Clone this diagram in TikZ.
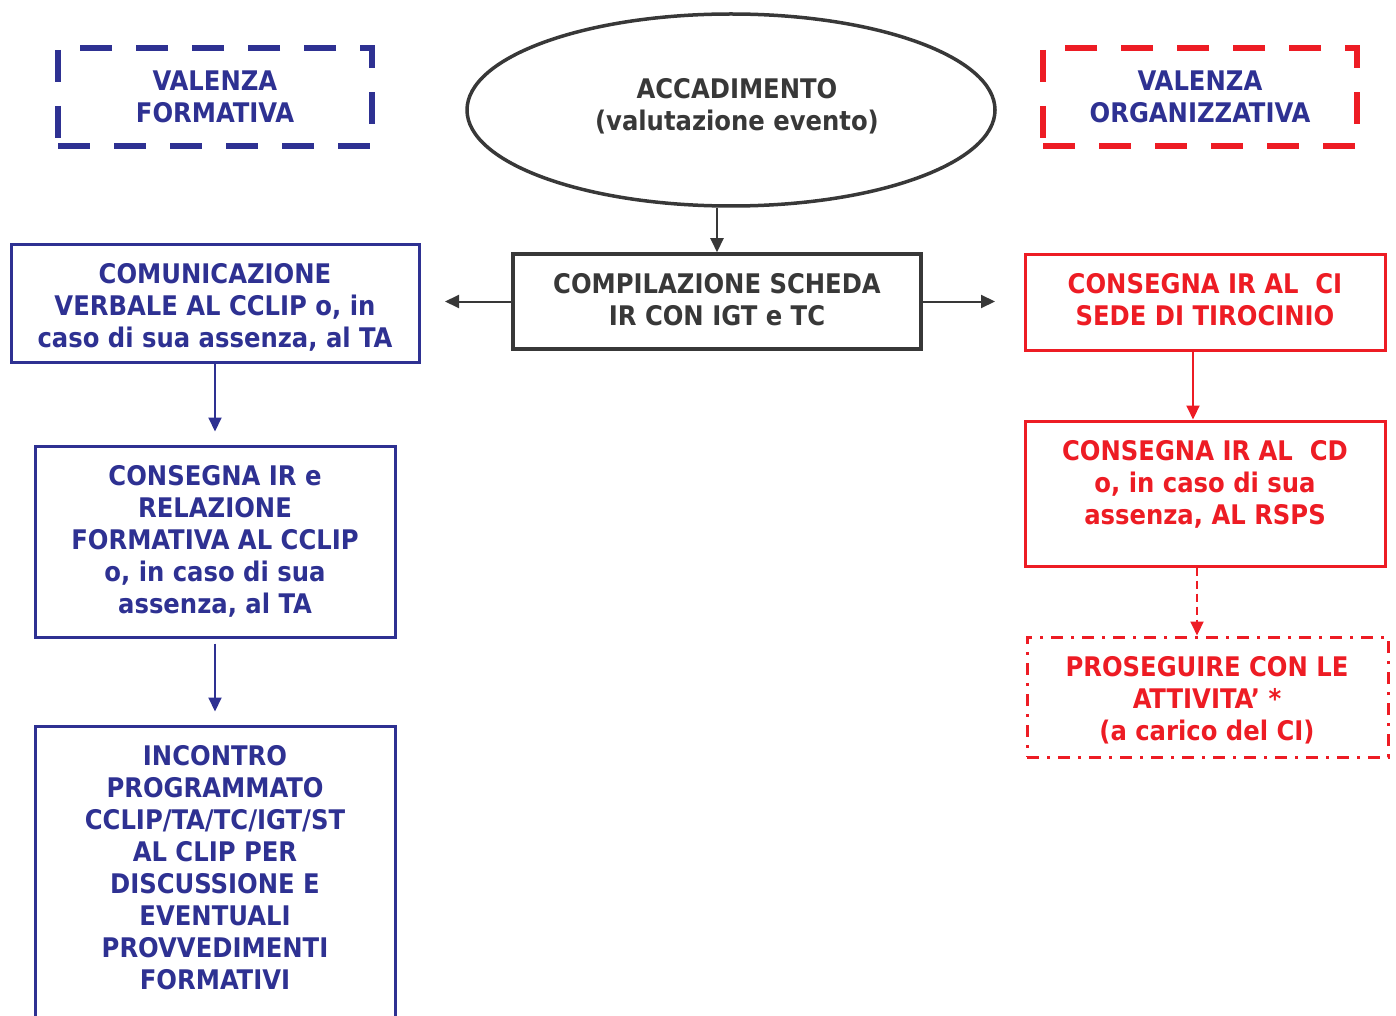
\documentclass[tikz,border=0pt]{standalone}
\usepackage{fontspec}
\setmainfont{DejaVu Sans Condensed}
\usetikzlibrary{arrows.meta,shapes.geometric}
\definecolor{fblue}{HTML}{2E3192}
\definecolor{fred}{HTML}{ED1C24}
\definecolor{fgray}{HTML}{383838}
\begin{document}
\begin{tikzpicture}[x=1pt,y=-1pt,
  txt/.style={font=\fontsize{27}{32}\selectfont\bfseries, align=center, inner sep=0pt},
  frame/.style={line width=3pt, inner sep=0pt},
  bluebox/.style={txt, frame, draw=fblue, text=fblue},
  redbox/.style={txt, frame, draw=fred, text=fred},
  graybox/.style={txt, frame, line width=3.5pt, draw=fgray, text=fgray},
  valbox/.style={txt, line width=6pt, dash pattern=on 32pt off 24pt, text=fblue, minimum width=314pt, minimum height=98pt},
  tip/.style={-{Triangle[length=14pt,width=13pt]}},
  garrow/.style={tip, draw=fgray, line width=2pt},
  barrow/.style={tip, draw=fblue, line width=2pt},
  rarrow/.style={tip, draw=fred, line width=2pt}
]
\useasboundingbox (0,0) rectangle (1396,1016);
\clip (0,0) rectangle (1396,1016);

% top row
\node[valbox, draw=fblue] (vf) at (215,97) {VALENZA\\FORMATIVA};
\node[valbox, draw=fred] (vo) at (1200,97) {VALENZA\\ORGANIZZATIVA};
\node[ellipse, draw=fgray, line width=3.5pt, minimum width=528pt, minimum height=192pt, inner sep=0pt] (acc) at (731,110) {};
\node[txt, text=fgray] (acct) at (737,106) {ACCADIMENTO\\(valutazione evento)};

% center
\node[graybox, minimum width=408pt, minimum height=95pt] (cib) at (717,301.5) {};
\node[txt, text=fgray] (cibt) at (717,299.5) {COMPILAZIONE SCHEDA\\IR CON IGT e TC};
\coordinate (lend) at (445,301.5);
\coordinate (rend) at (995,301.5);
\draw[garrow] (acc.south -| cib.north) -- (cib.north);
\draw[garrow] (cib.west) -- (lend);
\draw[garrow] (cib.east) -- (rend);

% left column
\node[bluebox, minimum width=408pt, minimum height=117pt] (lb1) at (215,303.5) {};
\node[txt, text=fblue] (lb1t) at (215,307) {COMUNICAZIONE\\VERBALE AL CCLIP o, in\\caso di sua assenza, al TA};
\node[bluebox, minimum width=360pt, minimum height=191pt] (lb2) at (215,541.5) {CONSEGNA IR e\\RELAZIONE\\FORMATIVA AL CCLIP\\o, in caso di sua\\assenza, al TA};
\node[bluebox, minimum width=360pt, minimum height=320pt] (lb3) at (215,886) {};
\node[txt, text=fblue] (lb3t) at (215,868) {INCONTRO\\PROGRAMMATO\\CCLIP/TA/TC/IGT/ST\\AL CLIP PER\\DISCUSSIONE E\\EVENTUALI\\PROVVEDIMENTI\\FORMATIVI};
\draw[barrow, shorten >=13pt] (lb1.south) -- (lb2.north);
\draw[barrow, shorten <=5pt, shorten >=13pt] (lb2.south) -- (lb3.north);

% right column
\node[redbox, minimum width=360pt, minimum height=96pt] (rb1) at (1205,302) {};
\node[txt, text=fred] (rb1t) at (1205,300) {CONSEGNA IR AL\ \ CI\\SEDE DI TIROCINIO};
\node[redbox, minimum width=360pt, minimum height=145pt] (rb2) at (1205,493.5) {};
\node[txt, text=fred] (rb2t) at (1205,484) {CONSEGNA IR AL\ \ CD\\o, in caso di sua\\assenza, AL RSPS};
\node[redbox, dash pattern=on 12pt off 8pt on 3pt off 8pt, minimum width=361pt, minimum height=120pt] (rb3) at (1207.5,697) {};
\node[txt, text=fred] (rb3t) at (1207,700) {PROSEGUIRE CON LE\\ATTIVITA’ *\\(a carico del CI)};
\draw[rarrow] ([xshift=-12pt]rb1.south) -- ([xshift=-12pt]rb2.north);
\draw[rarrow, dash pattern=on 8pt off 5pt] ([xshift=-8pt]rb2.south) -- ([xshift=-10.5pt]rb3.north);
\end{tikzpicture}
\end{document}
